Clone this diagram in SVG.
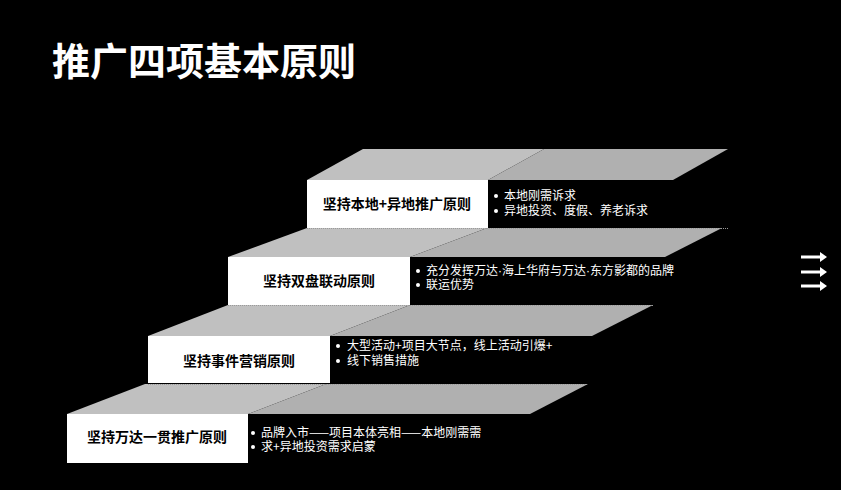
<svg xmlns="http://www.w3.org/2000/svg" width="841" height="490" viewBox="0 0 841 490">
<style>
.lt{fill:#c0c0c0}
.dk{fill:#b0b0b0}
.box{fill:#ffffff}
.dot{stroke:#9a9a9a;stroke-width:1;stroke-dasharray:1 1;fill:none}
.lbl{font-family:"Noto Sans CJK SC","Noto Sans",sans-serif;font-weight:bold;font-size:14px;fill:#000;text-anchor:middle}
.txt{font-family:"Noto Sans CJK SC","Noto Sans",sans-serif;font-size:12px;fill:#fff}
.md{font-family:"Liberation Sans",sans-serif}
.bul{fill:#fff}
.ttl{font-family:"Noto Sans CJK SC","Noto Sans",sans-serif;font-weight:bold;font-size:38px;fill:#fff}
.arr{stroke:#fff;stroke-width:3;fill:none}
.ah{fill:#fff}
</style>
<rect width="841" height="490" fill="#000"/>
<text class="ttl" x="52" y="75">推广四项基本原则</text>

<g id="step1">
<polygon class="lt" points="363,149 544,149 488,180 307,180"/>
<polygon class="dk" points="544,149 728,149 673,180 488,180"/>
<rect class="box" x="307" y="180" width="181" height="48"/>
<text class="lbl" x="397" y="209">坚持本地+异地推广原则</text>
<circle class="bul" cx="496" cy="196" r="2"/>
<circle class="bul" cx="496" cy="211" r="2"/>
<text class="txt" x="504" y="200">本地刚需诉求</text>
<text class="txt" x="504" y="215">异地投资、度假、养老诉求</text>
</g>

<g id="step2">
<polygon class="lt" points="307,228 487,228 410,257 228,257"/>
<polygon class="dk" points="487,228 722,228 665,257 410,257"/>
<line class="dot" x1="307" y1="228.5" x2="728" y2="228.5"/>
<rect class="box" x="228" y="257" width="182" height="48"/>
<text class="lbl" x="319" y="286">坚持双盘联动原则</text>
<circle class="bul" cx="418" cy="271" r="2"/>
<circle class="bul" cx="418" cy="285" r="2"/>
<text class="txt" x="426" y="275">充分发挥万达<tspan class="md">·</tspan>海上华府与万达<tspan class="md">·</tspan>东方影都的品牌</text>
<text class="txt" x="426" y="289">联运优势</text>
</g>

<g id="step3">
<polygon class="lt" points="228,305 410,305 330,336 148,336"/>
<polygon class="dk" points="410,305 653,305 592,336 330,336"/>
<line class="dot" x1="228" y1="305.5" x2="653" y2="305.5"/>
<rect class="box" x="148" y="336" width="182" height="47"/>
<text class="lbl" x="239" y="366">坚持事件营销原则</text>
<circle class="bul" cx="338" cy="346" r="2"/>
<circle class="bul" cx="338" cy="361" r="2"/>
<text class="txt" x="347" y="350">大型活动+项目大节点，线上活动引爆+</text>
<text class="txt" x="347" y="365">线下销售措施</text>
</g>

<g id="step4">
<polygon class="lt" points="145,384 326,384 248,414 67,414"/>
<polygon class="dk" points="326,384 588,384 530,414 248,414"/>
<line class="dot" x1="148" y1="384.5" x2="588" y2="384.5"/>
<rect class="box" x="67" y="414" width="181" height="49"/>
<text class="lbl" x="157" y="442">坚持万达一贯推广原则</text>
<circle class="bul" cx="253" cy="433" r="2"/>
<circle class="bul" cx="253" cy="447" r="2"/>
<text class="txt" x="261" y="437">品牌入市——项目本体亮相——本地刚需需</text>
<text class="txt" x="261" y="451">求+异地投资需求启蒙</text>
</g>

<g id="connectors">
<path class="arr" d="M801,257 H822"/>
<polygon class="ah" points="820,252 827,257 820,262"/>
<path class="arr" d="M801,272 H822"/>
<polygon class="ah" points="820,267 827,272 820,277"/>
<path class="arr" d="M801,286 H822"/>
<polygon class="ah" points="820,281 827,286 820,291"/>
</g>
</svg>
